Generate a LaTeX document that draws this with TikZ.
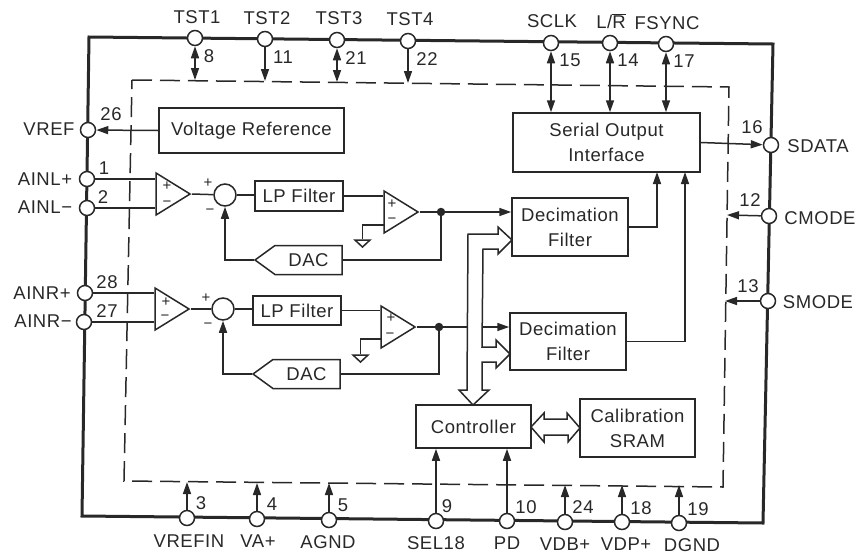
\documentclass[tikz,border=0pt]{standalone}
\usepackage{fontspec}
\setmainfont[LetterSpace=3]{Liberation Sans}
\usepackage{xcolor}
\usetikzlibrary{shapes,arrows.meta,positioning,calc}
\definecolor{inkdark}{RGB}{40,40,40}
\tikzset{
    blockbox/.style={draw=inkdark, line width=1.5pt, fill=white, align=center,
                     inner sep=0pt, text=inkdark,
                     font=\fontsize{18.5}{25}\selectfont},
    pinnode/.style={draw=inkdark, circle, line width=1.5pt, fill=white,
                    minimum size=15pt, inner sep=0pt},
    sumnode/.style={draw=inkdark, circle, line width=1.5pt, fill=white,
                    minimum size=22pt, inner sep=0pt},
    dotnode/.style={circle, fill=inkdark, minimum size=8.5pt, inner sep=0pt},
    ampnode/.style={draw=inkdark, line width=1.5pt, fill=white,
                    isosceles triangle, isosceles triangle stretches,
                    minimum width=42pt, minimum height=34pt, inner sep=0pt,
                    anchor=apex},
    gndnode/.style={draw=inkdark, line width=1.5pt, fill=white,
                    isosceles triangle, isosceles triangle stretches,
                    shape border rotate=-90,
                    minimum width=15pt, minimum height=7pt, inner sep=0pt},
    dacnode/.style={draw=inkdark, line width=1.5pt, fill=white, signal,
                    signal to=west, signal pointer angle=72,
                    minimum width=87pt, minimum height=29pt, inner sep=0pt,
                    text=inkdark, font=\fontsize{18.5}{20}\selectfont},
    lbl/.style={inner sep=0pt, text=inkdark, text height=13pt, text depth=0pt,
                font=\fontsize{18.5}{20}\selectfont},
    signlbl/.style={inner sep=0pt, text=inkdark, font=\fontsize{15}{16}\selectfont},
}
\begin{document}
\begin{tikzpicture}[
    x=1pt, y=-1pt,
    conn/.style={line width=1.5pt, inkdark},
    toarrow/.style={conn, -{Triangle[length=12pt,width=8pt]}},
    biarrow/.style={conn, {Triangle[length=12pt,width=8pt]}-{Triangle[length=12pt,width=8pt]}},
    hollow/.style={draw=inkdark, line width=1.5pt, fill=white}
]
    \useasboundingbox (0,0) rectangle (868,555);

    % package outline and die boundary
    \draw[inkdark, line width=3pt] (89,37) -- (773,44) -- (763,523) -- (82,516) -- cycle;
    \draw[inkdark, line width=1.5pt, dash pattern=on 20pt off 8pt]
        (132,80) -- (729,87) -- (723,487) -- (124,481) -- cycle;

    % blocks
    \node[blockbox, minimum width=185pt, minimum height=45pt] (vref) at (251.5,130.5) {Voltage Reference};
    \node[blockbox, minimum width=187pt, minimum height=59pt] (serial) at (606.5,142.5) {Serial Output\\Interface};
    \node[blockbox, minimum width=116pt, minimum height=58pt] (decU) at (570,227) {Decimation\\Filter};
    \node[blockbox, minimum width=116pt, minimum height=57pt] (decL) at (568,341.5) {Decimation\\Filter};
    \node[blockbox, minimum width=115pt, minimum height=43pt] (ctrl) at (473.5,426.5) {Controller};
    \node[blockbox, minimum width=115pt, minimum height=58pt] (calib) at (637.5,428) {Calibration\\SRAM};

    % left channel
    \node[ampnode] (ampLa) at (192,194) {};
    \node[sumnode] (sumL) at (225,195) {};
    \node[blockbox, minimum width=88pt, minimum height=30pt] (lpL) at (299,196) {LP Filter};
    \node[ampnode] (ampLb) at (420,212) {};
    \node[dotnode] (dotL) at (441,212) {};
    \node[dacnode] (dacL) at (308.5,260) {DAC};
    \node[gndnode] (gndL) at (362.5,243) {};
    \coordinate (negL) at (384,225);

    % right channel
    \node[ampnode] (ampRa) at (191,309) {};
    \node[sumnode] (sumR) at (223,309) {};
    \node[blockbox, minimum width=88pt, minimum height=29pt] (lpR) at (297,310.5) {LP Filter};
    \node[ampnode] (ampRb) at (417,327) {};
    \node[dotnode] (dotR) at (439,327) {};
    \node[dacnode] (dacR) at (306.5,374) {DAC};
    \node[gndnode] (gndR) at (360.5,358) {};
    \coordinate (negR) at (382,339);

    % pins
    \node[pinnode] (pTSTa) at (195,38) {};
    \node[pinnode] (pTSTb) at (265,39) {};
    \node[pinnode] (pTSTc) at (337,40) {};
    \node[pinnode] (pTSTd) at (408,41) {};
    \node[pinnode] (pSCLK) at (551,43) {};
    \node[pinnode] (pLR) at (610,43) {};
    \node[pinnode] (pFSYNC) at (666,44) {};
    \node[pinnode] (pSDATA) at (771,145) {};
    \node[pinnode] (pCMODE) at (769,216) {};
    \node[pinnode] (pSMODE) at (768,301) {};
    \node[pinnode] (pVREF) at (88,130) {};
    \node[pinnode] (pAINLp) at (87,179) {};
    \node[pinnode] (pAINLm) at (87,208) {};
    \node[pinnode] (pAINRp) at (85,293) {};
    \node[pinnode] (pAINRm) at (84,322) {};
    \node[pinnode] (pVREFIN) at (187,518) {};
    \node[pinnode] (pVA) at (257,519) {};
    \node[pinnode] (pAGND) at (329,520) {};
    \node[pinnode] (pSEL) at (436,521) {};
    \node[pinnode] (pPD) at (507,521) {};
    \node[pinnode] (pVDB) at (565,522) {};
    \node[pinnode] (pVDP) at (622,522) {};
    \node[pinnode] (pDGND) at (679,523) {};

    % free ends on the die boundary
    \coordinate (eTSTa) at (195,80);
    \coordinate (eTSTb) at (265,81);
    \coordinate (eTSTc) at (337,82);
    \coordinate (eTSTd) at (408,83);
    \coordinate (eCMODE) at (727,215);
    \coordinate (eSMODE) at (725,301);
    \coordinate (eVREFIN) at (187,482);
    \coordinate (eVA) at (257,483);
    \coordinate (eAGND) at (329,483);
    \coordinate (eVDB) at (565,485);
    \coordinate (eVDP) at (622,485);
    \coordinate (eDGND) at (679,485);
    \coordinate (inSerA) at (657,172);
    \coordinate (inSerB) at (685,172);

    % connectors
    \draw[biarrow] (pTSTa) -- (eTSTa);
    \draw[toarrow] (pTSTb) -- (eTSTb);
    \draw[biarrow] (pTSTc) -- (eTSTc);
    \draw[toarrow] (pTSTd) -- (eTSTd);
    \draw[biarrow] (pSCLK) -- (pSCLK |- serial.north);
    \draw[biarrow] (pLR) -- (pLR |- serial.north);
    \draw[biarrow] (pFSYNC) -- (pFSYNC |- serial.north);
    \draw[toarrow] (serial.east) -- (pSDATA);
    \draw[toarrow] (pCMODE) -- (eCMODE);
    \draw[toarrow] (pSMODE) -- (eSMODE);
    \draw[toarrow] (vref.west) -- (pVREF);
    \draw[toarrow] (pVREFIN) -- (eVREFIN);
    \draw[toarrow] (pVA) -- (eVA);
    \draw[toarrow] (pAGND) -- (eAGND);
    \draw[toarrow] (pSEL) -- (pSEL |- ctrl.south);
    \draw[toarrow] (pPD) -- (pPD |- ctrl.south);
    \draw[toarrow] (pVDB) -- (eVDB);
    \draw[toarrow] (pVDP) -- (eVDP);
    \draw[toarrow] (pDGND) -- (eDGND);

    \draw[conn] (pAINLp) -- (pAINLp -| ampLa.west);
    \draw[conn] (pAINLm) -- (pAINLm -| ampLa.west);
    \draw[conn] (ampLa.apex) -- (sumL);
    \draw[conn] (sumL) -- (lpL.west |- sumL);
    \draw[conn] (lpL.east) -- (lpL.east -| ampLb.west);
    \draw[conn] (ampLb.apex) -- (dotL);
    \draw[conn] (negL) -| (gndL);
    \draw[conn] (dotL) |- (dacL.east);
    \draw[toarrow] (dacL.west) -| (sumL);
    \draw[toarrow] (dotL) -- (dotL -| decU.west);

    \draw[conn] (pAINRp) -- (pAINRp -| ampRa.west);
    \draw[conn] (pAINRm) -- (pAINRm -| ampRa.west);
    \draw[conn] (ampRa.apex) -- (sumR);
    \draw[conn] (sumR) -- (lpR.west |- sumR);
    \draw[conn] (lpR.east) -- (lpR.east -| ampRb.west);
    \draw[conn] (ampRb.apex) -- (dotR);
    \draw[conn] (negR) -| (gndR);
    \draw[conn] (dotR) |- (dacR.east);
    \draw[toarrow] (dacR.west) -| (sumR);
    \draw[toarrow] (dotR) -- (dotR -| decL.west);

    \draw[toarrow] (decU.east) -| (inSerA);
    \draw[toarrow] (decL.east) -| (inSerB);

    % buses
    \draw[hollow] (468,234) -- (498,234) -- (498,227) -- (512,240) -- (498,254) -- (498,249)
        -- (483,249) -- (482,347) -- (496,347) -- (496,340) -- (510,354) -- (496,368)
        -- (496,362) -- (482,362) -- (482,390) -- (489,390) -- (473,405) -- (459,390)
        -- (467,390) -- cycle;
    \draw[hollow] (531,427) -- (544,413) -- (544,419) -- (567,419) -- (567,413) -- (580,428)
        -- (568,442) -- (568,435) -- (544,435) -- (544,442) -- cycle;

    % amplifier and summing signs
    \node[signlbl] (sgnLap) at (167,186) {+};
    \node[signlbl] (sgnLam) at (167,204) {−};
    \node[signlbl] (sgnLbp) at (392,204) {+};
    \node[signlbl] (sgnLbm) at (392,221) {−};
    \node[signlbl] (sgnRap) at (166,302) {+};
    \node[signlbl] (sgnRam) at (165,318) {−};
    \node[signlbl] (sgnRbp) at (391,318) {+};
    \node[signlbl] (sgnRbm) at (390,336) {−};
    \node[signlbl] (sgnSLp) at (208,183) {+};
    \node[signlbl] (sgnSLm) at (210,212) {−};
    \node[signlbl] (sgnSRp) at (206,298) {+};
    \node[signlbl] (sgnSRm) at (208,326) {−};

    % pin names
    \node[lbl] (nTSTa) at (197,17) {TST1};
    \node[lbl] (nTSTb) at (267,17.5) {TST2};
    \node[lbl] (nTSTc) at (339,18) {TST3};
    \node[lbl] (nTSTd) at (410,19) {TST4};
    \node[lbl] (nSCLK) at (552,21) {SCLK};
    \node[lbl] (nLR) at (611,22) {L/\mbox{$\overline{\mbox{R}}$}};
    \node[lbl] (nFSYNC) at (667,23) {FSYNC};
    \node[lbl] (nSDATA) at (818,146) {SDATA};
    \node[lbl] (nCMODE) at (820,218) {CMODE};
    \node[lbl] (nSMODE) at (818,302) {SMODE};
    \node[lbl] (nVREF) at (49,129) {VREF};
    \node[lbl] (nAINLp) at (45,179) {AINL+};
    \node[lbl] (nAINLm) at (45,207) {AINL−};
    \node[lbl] (nAINRp) at (42,293) {AINR+};
    \node[lbl] (nAINRm) at (43,321) {AINR−};
    \node[lbl] (nVREFIN) at (189,541) {VREFIN};
    \node[lbl] (nVA) at (258,541) {VA+};
    \node[lbl] (nAGND) at (328,542) {AGND};
    \node[lbl] (nSEL) at (436,543) {SEL18};
    \node[lbl] (nPD) at (507,543) {PD};
    \node[lbl] (nVDB) at (565,544) {VDB+};
    \node[lbl] (nVDP) at (626,544) {VDP+};
    \node[lbl] (nDGND) at (692,545) {DGND};

    % pin numbers
    \node[lbl] (numa) at (209,56) {8};
    \node[lbl] (numb) at (283,57) {11};
    \node[lbl] (numc) at (356,58) {21};
    \node[lbl] (numd) at (427,59) {22};
    \node[lbl] (nume) at (570,60) {15};
    \node[lbl] (numf) at (628,60) {14};
    \node[lbl] (numg) at (684,61) {17};
    \node[lbl] (numh) at (752,127) {16};
    \node[lbl] (numi) at (750,200) {12};
    \node[lbl] (numj) at (748,286) {13};
    \node[lbl] (numk) at (111,114) {26};
    \node[lbl] (numl) at (104,168) {1};
    \node[lbl] (numm) at (103,197) {2};
    \node[lbl] (numn) at (107,282) {28};
    \node[lbl] (numo) at (107,311) {27};
    \node[lbl] (nump) at (201,503) {3};
    \node[lbl] (numq) at (272,504) {4};
    \node[lbl] (numr) at (343,505) {5};
    \node[lbl] (nums) at (447,506) {9};
    \node[lbl] (numt) at (526,507) {10};
    \node[lbl] (numu) at (583,507) {24};
    \node[lbl] (numv) at (641,508) {18};
    \node[lbl] (numw) at (698,509) {19};
\end{tikzpicture}
\end{document}
